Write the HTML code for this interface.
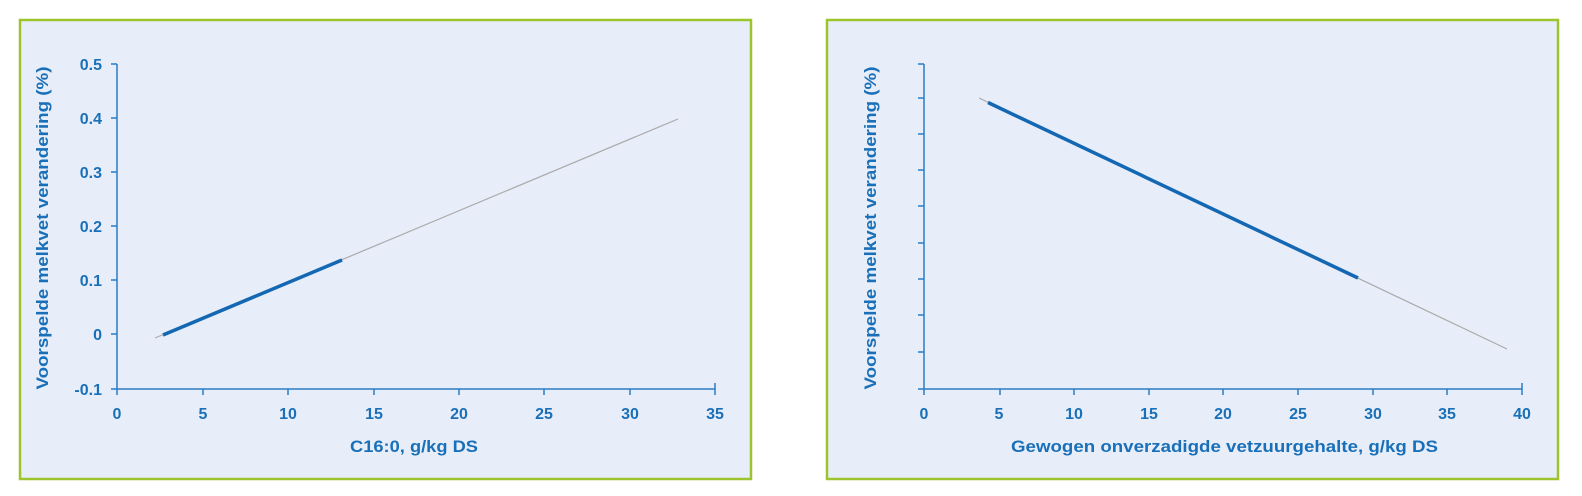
<!DOCTYPE html>
<html><head><meta charset="utf-8"><style>
html,body{margin:0;padding:0;background:#fff}
svg{display:block}
text{font-family:"Liberation Sans",Arial,sans-serif;fill:#1a70b8}
</style></head><body>
<svg width="1582" height="496" viewBox="0 0 1582 496" xmlns="http://www.w3.org/2000/svg">
<rect x="20" y="20" width="731" height="459" fill="#e8eef9" stroke="#9cc42c" stroke-width="2.5"/>
<rect x="827" y="20" width="731" height="459" fill="#e8eef9" stroke="#9cc42c" stroke-width="2.5"/>

<!-- Left chart -->
<g stroke="#2a7cc4" stroke-width="1.5" fill="none">
<line x1="117" y1="64" x2="117" y2="389"/>
<line x1="111" y1="389" x2="715" y2="389"/>
<line x1="111" y1="64" x2="117" y2="64"/>
<line x1="111" y1="118" x2="117" y2="118"/>
<line x1="111" y1="172" x2="117" y2="172"/>
<line x1="111" y1="226" x2="117" y2="226"/>
<line x1="111" y1="280" x2="117" y2="280"/>
<line x1="111" y1="334" x2="117" y2="334"/>
<line x1="117" y1="389" x2="117" y2="395"/>
<line x1="203" y1="389" x2="203" y2="395"/>
<line x1="288" y1="389" x2="288" y2="395"/>
<line x1="374" y1="389" x2="374" y2="395"/>
<line x1="459" y1="389" x2="459" y2="395"/>
<line x1="544" y1="389" x2="544" y2="395"/>
<line x1="630" y1="389" x2="630" y2="395"/>
<line x1="715" y1="383" x2="715" y2="395"/>
</g>
<line x1="155" y1="338" x2="678" y2="119" stroke="#aaaaaa" stroke-width="1.2"/>
<line x1="163" y1="335" x2="342" y2="260" stroke="#1467b3" stroke-width="3.5"/>
<g font-size="16" font-weight="bold" text-anchor="end">
<text x="102" y="70">0.5</text>
<text x="102" y="124">0.4</text>
<text x="102" y="178">0.3</text>
<text x="102" y="232">0.2</text>
<text x="102" y="286">0.1</text>
<text x="102" y="340">0</text>
<text x="102" y="395">-0.1</text>
</g>
<g font-size="16" font-weight="bold" text-anchor="middle">
<text x="117" y="419">0</text>
<text x="203" y="419">5</text>
<text x="288" y="419">10</text>
<text x="374" y="419">15</text>
<text x="459" y="419">20</text>
<text x="544" y="419">25</text>
<text x="630" y="419">30</text>
<text x="715" y="419">35</text>
</g>
<text x="350" y="452" font-size="17" font-weight="bold" textLength="128" lengthAdjust="spacingAndGlyphs">C16:0, g/kg DS</text>
<text transform="translate(48,228) rotate(-90)" font-size="17" font-weight="bold" text-anchor="middle" textLength="323" lengthAdjust="spacingAndGlyphs">Voorspelde melkvet verandering  (%)</text>

<!-- Right chart -->
<g stroke="#2a7cc4" stroke-width="1.5" fill="none">
<line x1="924" y1="64" x2="924" y2="389"/>
<line x1="918" y1="389" x2="1522" y2="389"/>
<line x1="918" y1="64" x2="924" y2="64"/>
<line x1="918" y1="98" x2="924" y2="98"/>
<line x1="918" y1="134" x2="924" y2="134"/>
<line x1="918" y1="170" x2="924" y2="170"/>
<line x1="918" y1="206" x2="924" y2="206"/>
<line x1="918" y1="243" x2="924" y2="243"/>
<line x1="918" y1="279" x2="924" y2="279"/>
<line x1="918" y1="315" x2="924" y2="315"/>
<line x1="918" y1="352" x2="924" y2="352"/>
<line x1="924" y1="389" x2="924" y2="395"/>
<line x1="1000" y1="389" x2="1000" y2="395"/>
<line x1="1074" y1="389" x2="1074" y2="395"/>
<line x1="1149" y1="389" x2="1149" y2="395"/>
<line x1="1223" y1="389" x2="1223" y2="395"/>
<line x1="1298" y1="389" x2="1298" y2="395"/>
<line x1="1373" y1="389" x2="1373" y2="395"/>
<line x1="1447" y1="389" x2="1447" y2="395"/>
<line x1="1522" y1="383" x2="1522" y2="395"/>
</g>
<line x1="979" y1="98" x2="1507" y2="349" stroke="#aaaaaa" stroke-width="1.2"/>
<line x1="988" y1="102.5" x2="1358" y2="278" stroke="#1467b3" stroke-width="3.5"/>
<g font-size="16" font-weight="bold" text-anchor="middle">
<text x="924" y="419">0</text>
<text x="999" y="419">5</text>
<text x="1074" y="419">10</text>
<text x="1149" y="419">15</text>
<text x="1223" y="419">20</text>
<text x="1298" y="419">25</text>
<text x="1373" y="419">30</text>
<text x="1447" y="419">35</text>
<text x="1522" y="419">40</text>
</g>
<text x="1011" y="452" font-size="17" font-weight="bold" textLength="427" lengthAdjust="spacingAndGlyphs">Gewogen onverzadigde vetzuurgehalte, g/kg DS</text>
<text transform="translate(876,228) rotate(-90)" font-size="17" font-weight="bold" text-anchor="middle" textLength="323" lengthAdjust="spacingAndGlyphs">Voorspelde melkvet verandering  (%)</text>
</svg>
</body></html>
